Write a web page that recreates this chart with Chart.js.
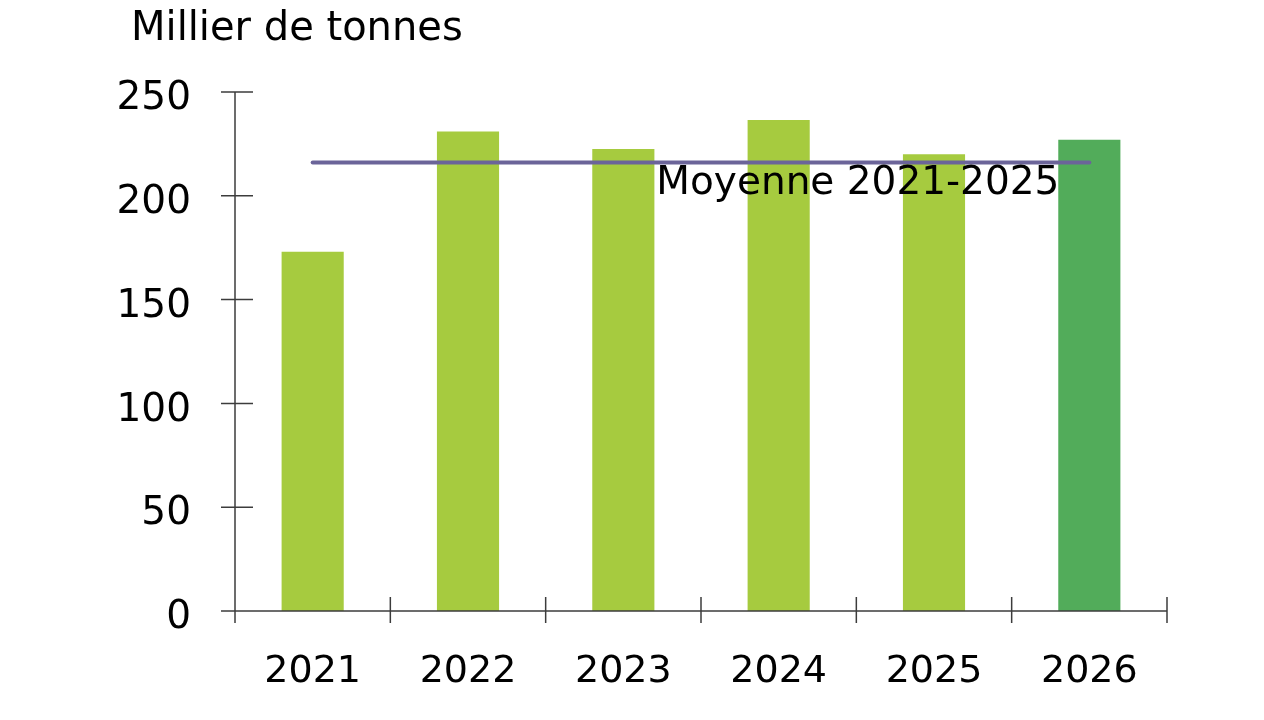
<!DOCTYPE html>
<html>
<head>
<meta charset="utf-8">
<script src="https://cdn.jsdelivr.net/npm/chart.js@4/dist/chart.umd.min.js"></script>
<style>
  html, body { margin: 0; padding: 0; background: #fff; }
  #wrap { width: 1264px; height: 720px; }
</style>
</head>
<body>
<div id="wrap"><canvas id="c"></canvas></div>
<script>
// data
const years = ["2021", "2022", "2023", "2024", "2025", "2026"];
const tonnes = [173, 231, 222.5, 236.5, 220, 227];
const average = [216, 216, 216, 216, 216, 216];
const barColors = ["#a6cb3f", "#a6cb3f", "#a6cb3f", "#a6cb3f", "#a6cb3f", "#52ac5a"];
const yTicks = [0, 50, 100, 150, 200, 250];
const unitLabel = "Millier de tonnes";
const averageLabel = "Moyenne 2021-2025";

const FONT = "'DejaVu Sans', sans-serif";
const AXIS = "#3c3c3c";

// axes with ticks crossing the line, plus title and average label
const decor = {
  id: "decor",
  afterDatasetsDraw(chart) {
    const { ctx, chartArea: a, scales: { x, y } } = chart;
    ctx.save();
    ctx.strokeStyle = AXIS;
    ctx.lineWidth = 1.5;
    ctx.beginPath();
    ctx.moveTo(a.left, y.getPixelForValue(250));
    ctx.lineTo(a.left, a.bottom + 12);
    ctx.moveTo(a.left - 14, a.bottom);
    ctx.lineTo(a.right, a.bottom);
    y.ticks.forEach((t, i) => {
      const py = y.getPixelForTick(i);
      ctx.moveTo(a.left - 14, py);
      ctx.lineTo(a.left + 18, py);
    });
    for (let i = 0; i <= years.length; i++) {
      const px = x.getPixelForValue(i - 0.5);
      ctx.moveTo(px, a.bottom - 14);
      ctx.lineTo(px, a.bottom + 12);
    }
    ctx.stroke();

    ctx.fillStyle = "#000";
    ctx.font = "40px " + FONT;
    ctx.textBaseline = "middle";
    ctx.textAlign = "left";
    ctx.fillText(unitLabel, 131, 30);

    ctx.font = "39px " + FONT;
    ctx.textAlign = "right";
    ctx.fillText(averageLabel, x.getPixelForValue(5) - 30, y.getPixelForValue(average[0]) + 21);
    ctx.restore();
  }
};

new Chart(document.getElementById("c"), {
  data: {
    labels: years,
    datasets: [
      {
        type: "line",
        data: average,
        borderColor: "#6b6499",
        borderWidth: 4,
        borderCapStyle: "round",
        pointRadius: 0,
        order: 0
      },
      {
        type: "bar",
        data: tonnes,
        backgroundColor: barColors,
        categoryPercentage: 1,
        barPercentage: 0.4,
        order: 1
      }
    ]
  },
  options: {
    responsive: true,
    maintainAspectRatio: false,
    animation: false,
    layout: { padding: { top: 92, right: 97, left: 0, bottom: 0 } },
    plugins: { legend: { display: false }, tooltip: { enabled: false } },
    scales: {
      x: {
        offset: true,
        grid: { display: false },
        border: { display: false },
        ticks: { color: "#000", font: { family: FONT, size: 38 }, padding: 30 },
        afterFit(s) { s.height = 720 - 611; }
      },
      y: {
        min: 0,
        max: 250,
        afterBuildTicks(s) { s.ticks = yTicks.map(v => ({ value: v })); },
        grid: { display: false },
        border: { display: false },
        ticks: { color: "#000", font: { family: FONT, size: 39 }, padding: 36, labelOffset: 7 },
        afterFit(s) { s.width = 235; }
      }
    }
  },
  plugins: [decor]
});
</script>
</body>
</html>
